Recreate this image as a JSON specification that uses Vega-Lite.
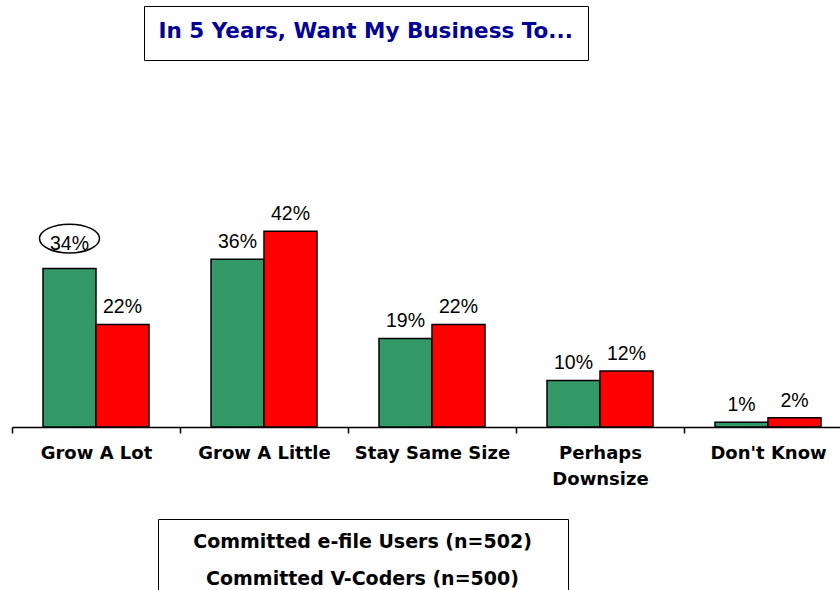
{
  "$schema": "https://vega.github.io/schema/vega-lite/v6.json",
  "width": 828,
  "height": 233,
  "autosize": {"type": "none"},
  "padding": {"left": 12, "top": 194, "right": 0, "bottom": 163},
  "background": "white",
  "data": {
    "values": [
      {"answer": "Grow A Lot", "group": "Committed e-file Users (n=502)", "share": 0.34},
      {"answer": "Grow A Lot", "group": "Committed V-Coders (n=500)", "share": 0.22},
      {"answer": "Grow A Little", "group": "Committed e-file Users (n=502)", "share": 0.36},
      {"answer": "Grow A Little", "group": "Committed V-Coders (n=500)", "share": 0.42},
      {"answer": "Stay Same Size", "group": "Committed e-file Users (n=502)", "share": 0.19},
      {"answer": "Stay Same Size", "group": "Committed V-Coders (n=500)", "share": 0.22},
      {"answer": "Perhaps Downsize", "group": "Committed e-file Users (n=502)", "share": 0.10},
      {"answer": "Perhaps Downsize", "group": "Committed V-Coders (n=500)", "share": 0.12},
      {"answer": "Don't Know", "group": "Committed e-file Users (n=502)", "share": 0.01},
      {"answer": "Don't Know", "group": "Committed V-Coders (n=500)", "share": 0.02}
    ]
  },
  "encoding": {
    "x": {
      "field": "answer",
      "type": "nominal",
      "sort": ["Grow A Lot", "Grow A Little", "Stay Same Size", "Perhaps Downsize", "Don't Know"],
      "scale": {"range": [0, 840], "paddingInner": 0, "paddingOuter": 0},
      "axis": {
        "title": null,
        "tickBand": "extent",
        "domainColor": "black",
        "domainWidth": 1.5,
        "tickColor": "black",
        "tickWidth": 1.5,
        "tickSize": 6,
        "labelAngle": 0,
        "labelFont": "DejaVu Sans",
        "labelFontWeight": "bold",
        "labelFontSize": 18,
        "labelColor": "black",
        "labelPadding": 11,
        "labelLineHeight": 26,
        "labelLimit": 0,
        "labelExpr": "datum.label == 'Perhaps Downsize' ? ['Perhaps', 'Downsize'] : datum.label"
      }
    },
    "xOffset": {
      "field": "group",
      "type": "nominal",
      "sort": ["Committed e-file Users (n=502)", "Committed V-Coders (n=500)"],
      "scale": {"paddingInner": 0, "paddingOuter": 0.585}
    },
    "y": {
      "field": "share",
      "type": "quantitative",
      "scale": {"domain": [0, 0.5]},
      "axis": null
    }
  },
  "layer": [
    {
      "mark": {"type": "bar", "stroke": "black", "strokeWidth": 1.5},
      "encoding": {
        "color": {
          "field": "group",
          "type": "nominal",
          "sort": ["Committed e-file Users (n=502)", "Committed V-Coders (n=500)"],
          "scale": {"range": ["#339966", "#ff0000"]},
          "legend": {
            "title": null,
            "orient": "none",
            "legendX": 146,
            "legendY": 325,
            "direction": "vertical",
            "strokeColor": "black",
            "fillColor": "white",
            "padding": 13,
            "symbolSize": 1,
            "symbolOpacity": 0,
            "symbolStrokeWidth": 0,
            "symbolOffset": 374,
            "labelFont": "DejaVu Sans",
            "labelFontWeight": "bold",
            "labelFontSize": 19,
            "labelColor": "black",
            "labelLimit": 0,
            "labelOffset": -201.5,
            "labelAlign": "center",
            "rowPadding": 17
          }
        }
      }
    },
    {
      "transform": [{"filter": "!(datum.answer == 'Grow A Lot' && datum.group == 'Committed e-file Users (n=502)')"}],
      "mark": {"type": "text", "baseline": "alphabetic", "dy": -11, "font": "Liberation Sans", "fontSize": 19.5, "color": "black"},
      "encoding": {"text": {"field": "share", "type": "quantitative", "format": ".0%"}}
    },
    {
      "transform": [{"filter": "datum.answer == 'Grow A Lot' && datum.group == 'Committed e-file Users (n=502)'"}],
      "mark": {"type": "text", "baseline": "alphabetic", "dy": -19, "font": "Liberation Sans", "fontSize": 19.5, "color": "black"},
      "encoding": {"text": {"field": "share", "type": "quantitative", "format": ".0%"}}
    },
    {
      "transform": [{"filter": "datum.answer == 'Grow A Lot' && datum.group == 'Committed e-file Users (n=502)'"}],
      "mark": {
        "type": "point",
        "shape": "M -1 0 A 1 0.48 0 1 1 1 0 A 1 0.48 0 1 1 -1 0 Z",
        "size": 3600,
        "filled": false,
        "strokeWidth": 1.5,
        "opacity": 1,
        "yOffset": -30
      },
      "encoding": {
        "stroke": {
          "datum": "In 5 Years, Want My Business To...",
          "scale": {"range": ["black"]},
          "legend": {
            "title": "In 5 Years, Want My Business To...",
            "orient": "none",
            "legendX": 132,
            "legendY": -188,
            "strokeColor": "black",
            "fillColor": "white",
            "padding": 14.5,
            "titleFont": "DejaVu Sans",
            "titleFontWeight": "bold",
            "titleFontSize": 21.5,
            "titleColor": "#000099",
            "titleLimit": 0,
            "titlePadding": 3,
            "symbolSize": 0,
            "symbolOpacity": 0,
            "symbolStrokeWidth": 0,
            "labelExpr": "''",
            "labelFontSize": 1,
            "labelOpacity": 0,
            "rowPadding": 0
          }
        }
      }
    }
  ],
  "config": {
    "view": {"stroke": null}
  }
}
